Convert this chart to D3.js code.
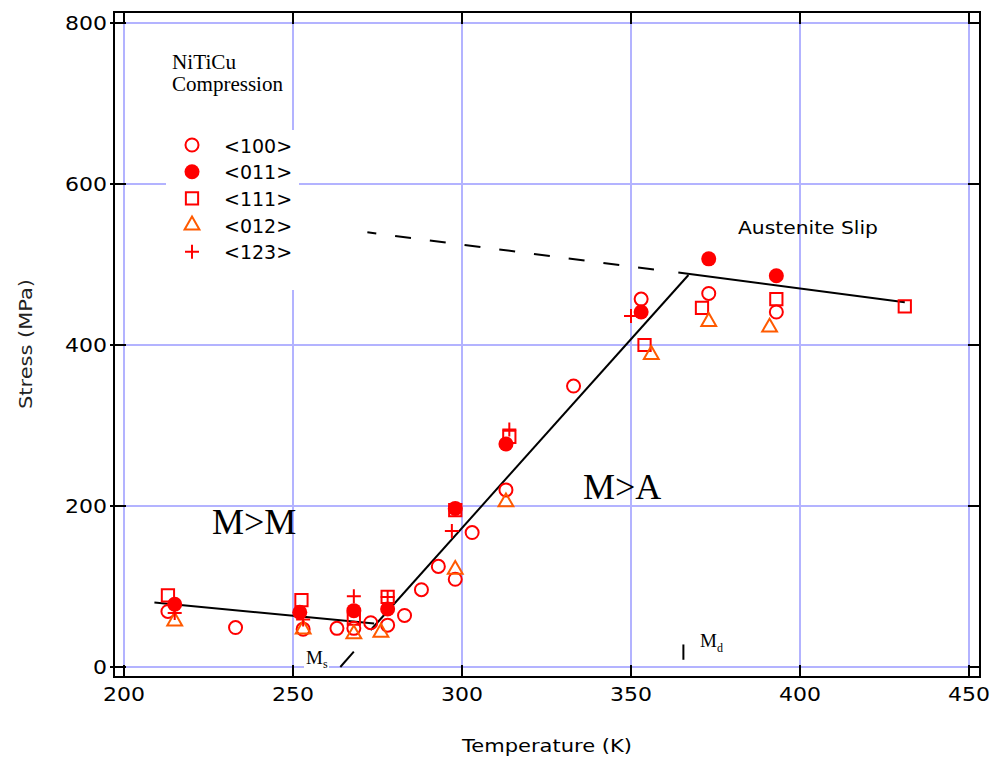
<!DOCTYPE html>
<meta charset="utf-8">
<style>
body { margin: 0; background: #fff; }
text.sans { font-family: "DejaVu Sans", sans-serif; fill: #000; }
text.serif { font-family: "Liberation Serif", "Times New Roman", serif; fill: #000; }
</style>
<body>
<script src="https://d3js.org/d3.v7.min.js"></script>
<script>

let width = 995;
let height = 761;

// data (temperature K, stress MPa)
const t100 = [213, 233, 253, 263, 268, 273, 278, 283, 288, 293, 298, 303, 313, 333, 353, 373, 393];
const s100 = [69, 49, 47, 48, 48, 55, 52, 64, 96, 125, 109, 167, 220, 349, 457, 464, 441];
const t011 = [215, 252, 268, 278, 298, 313, 353, 373, 393];
const s011 = [78, 68, 70, 72, 197, 277, 441, 507, 486];
const t111 = [213, 252.5, 268, 278, 298, 314, 354, 371, 393, 431];
const s111 = [89, 83, 60, 87, 195, 286, 400, 446, 457, 448];
const t012 = [215, 253, 268, 276, 298, 313, 356, 373, 391];
const s012 = [57, 47, 41, 43, 121, 205, 388, 429, 422];
const t123 = [215, 253, 268, 278, 297, 314, 350];
const s123 = [67, 59, 88, 87, 169, 295, 436];

const legendNames = ["<100>", "<011>", "<111>", "<012>", "<123>"];

// fitted lines
const mmLine = [[209, 80], [274, 54]];
const maLine = [[273, 46], [367, 487]];
const slipLine = [[364, 490], [431, 453]];
const slipDash = [[272, 540], [362, 491]];
const msMark = [[264, 0], [268, 19]];
const mdMark = [[365.5, 9], [365.5, 28]];

const xTicks = [200, 250, 300, 350, 400, 450];
const yTicks = [0, 200, 400, 600, 800];

let svg = d3.select("body").append("svg")
    .attr("width", width)
    .attr("height", height);

let x = d3.scaleLinear().domain([200, 450]).range([124, 969]);
let y = d3.scaleLinear().domain([0, 800]).range([667, 23]);

let frame = {left: 114, right: 980, top: 12, bottom: 677};

// grid
let grid = svg.append("g").attr("stroke", "#b3b3ff").attr("stroke-width", 2);
xTicks.forEach(v => {
  grid.append("line").attr("x1", x(v)).attr("x2", x(v)).attr("y1", y(0)).attr("y2", y(800));
});
yTicks.forEach(v => {
  grid.append("line").attr("x1", x(200)).attr("x2", x(450)).attr("y1", y(v)).attr("y2", y(v));
});

// frame + ticks
svg.append("rect")
  .attr("x", frame.left).attr("y", frame.top)
  .attr("width", frame.right - frame.left).attr("height", frame.bottom - frame.top)
  .attr("fill", "none").attr("stroke", "#000").attr("stroke-width", 2);

let ticks = svg.append("g").attr("stroke", "#000").attr("stroke-width", 2);
xTicks.forEach(v => {
  ticks.append("line").attr("x1", x(v)).attr("x2", x(v)).attr("y1", frame.bottom).attr("y2", frame.bottom - 12);
  ticks.append("line").attr("x1", x(v)).attr("x2", x(v)).attr("y1", frame.top).attr("y2", frame.top + 12);
});
yTicks.forEach(v => {
  ticks.append("line").attr("x1", frame.left - 4).attr("x2", frame.left + 12).attr("y1", y(v)).attr("y2", y(v));
  ticks.append("line").attr("x1", frame.right).attr("x2", frame.right - 12).attr("y1", y(v)).attr("y2", y(v));
});

svg.selectAll(".xlab").data(xTicks).enter().append("text")
  .attr("class", "sans")
  .attr("x", d => x(d)).attr("y", 701)
  .attr("text-anchor", "middle")
  .attr("font-size", 20)
  .attr("textLength", 42).attr("lengthAdjust", "spacingAndGlyphs")
  .text(d => d);

svg.selectAll(".ylab").data(yTicks).enter().append("text")
  .attr("class", "sans")
  .attr("x", 107).attr("y", d => y(d) + 7)
  .attr("text-anchor", "end")
  .attr("font-size", 20)
  .attr("textLength", d => String(d).length * 14).attr("lengthAdjust", "spacingAndGlyphs")
  .text(d => d);

svg.append("text").attr("class", "sans")
  .attr("x", 547).attr("y", 752)
  .attr("text-anchor", "middle")
  .attr("font-size", 18).attr("textLength", 170).attr("lengthAdjust", "spacingAndGlyphs")
  .text("Temperature (K)");

svg.append("text").attr("class", "sans")
  .attr("transform", "translate(32,344) rotate(-90)")
  .attr("text-anchor", "middle")
  .attr("font-size", 18).attr("textLength", 130).attr("lengthAdjust", "spacingAndGlyphs")
  .style("fill", "#222")
  .text("Stress (MPa)");

// lines
let line = d3.line().x(d => x(d[0])).y(d => y(d[1]));
[mmLine, maLine, slipLine, msMark, mdMark].forEach(l => {
  svg.append("path").attr("d", line(l))
    .attr("fill", "none").attr("stroke", "#000").attr("stroke-width", 2);
});
svg.append("path").attr("d", line(slipDash))
  .attr("fill", "none").attr("stroke", "#000").attr("stroke-width", 2)
  .attr("stroke-dasharray", "16,19").attr("stroke-dashoffset", 7);

// markers
const red = "#ff0000";
const orange = "#ff5a00";

function plusPath(r) {
  return `M${-r},0H${r}M0,${-r}V${r}`;
}

let series = [
  {t: t100, s: s100, path: d3.symbol(d3.symbolCircle, 133)(), fill: "none", stroke: red},
  {t: t011, s: s011, path: d3.symbol(d3.symbolCircle, 177)(), fill: red, stroke: "none"},
  {t: t111, s: s111, path: d3.symbol(d3.symbolSquare, 150)(), fill: "none", stroke: red},
  {t: t012, s: s012, path: d3.symbol(d3.symbolTriangle, 95)(), fill: "none", stroke: orange},
  {t: t123, s: s123, path: plusPath(7), fill: "none", stroke: red}
];

series.forEach(ser => {
  svg.append("g").selectAll("path")
    .data(ser.t.map((t, i) => [t, ser.s[i]]))
    .enter().append("path")
      .attr("d", ser.path)
      .attr("transform", d => `translate(${x(d[0])},${y(d[1])})`)
      .attr("fill", ser.fill)
      .attr("stroke", ser.stroke)
      .attr("stroke-width", 2);
});

// legend
svg.append("rect").attr("x", 166).attr("y", 130).attr("width", 133).attr("height", 160).attr("fill", "#fff");
let lg = svg.append("g");
series.forEach((ser, i) => {
  let cy = 145 + i * 26.7;
  lg.append("path").attr("d", ser.path)
    .attr("transform", `translate(192,${cy})`)
    .attr("fill", ser.fill).attr("stroke", ser.stroke).attr("stroke-width", 2);
  lg.append("text").attr("class", "sans")
    .attr("x", 224).attr("y", cy + 7.5)
    .attr("font-size", 19)
    .text(legendNames[i]);
});

// annotations
svg.append("text").attr("class", "serif").attr("x", 172).attr("y", 69).attr("font-size", 20)
  .attr("textLength", 64).attr("lengthAdjust", "spacingAndGlyphs").text("NiTiCu");
svg.append("text").attr("class", "serif").attr("x", 172).attr("y", 91).attr("font-size", 20)
  .attr("textLength", 111).attr("lengthAdjust", "spacingAndGlyphs").text("Compression");
svg.append("text").attr("class", "serif").attr("x", 212).attr("y", 534).attr("font-size", 36).text("M>M");
svg.append("text").attr("class", "serif").attr("x", 583).attr("y", 499).attr("font-size", 36).text("M>A");
svg.append("text").attr("class", "sans").attr("x", 738).attr("y", 234)
  .attr("font-size", 17).attr("textLength", 140).attr("lengthAdjust", "spacingAndGlyphs").text("Austenite Slip");

svg.append("rect").attr("x", 304).attr("y", 650).attr("width", 25).attr("height", 21).attr("fill", "#fff");
let ms = svg.append("text").attr("class", "serif").attr("x", 306).attr("y", 664).attr("font-size", 19);
ms.append("tspan").text("M");
ms.append("tspan").attr("font-size", 12).attr("dy", 4).text("s");

let md = svg.append("text").attr("class", "serif").attr("x", 700).attr("y", 647).attr("font-size", 19);
md.append("tspan").text("M");
md.append("tspan").attr("font-size", 12).attr("dy", 5).text("d");

</script>
